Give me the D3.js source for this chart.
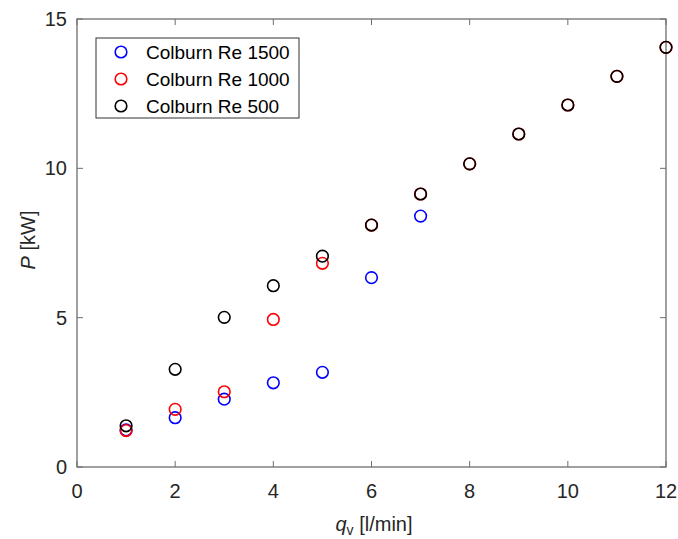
<!DOCTYPE html>
<html>
<head>
<meta charset="utf-8">
<script src="https://cdn.jsdelivr.net/npm/d3@7"></script>
<style>
  body { margin: 0; background: #fff; }
  text { font-family: "Liberation Sans", Arial, sans-serif; }
</style>
</head>
<body>
<div id="chart"></div>
<script>
// ============================
// Data
// ============================
const qv = [1, 2, 3, 4, 5, 6, 7, 8, 9, 10, 11, 12];
const re1500 = [1.24, 1.65, 2.27, 2.82, 3.17, 6.34, 8.4];
const re1000 = [1.22, 1.93, 2.52, 4.94, 6.82, 8.1, 9.14, 10.15, 11.15, 12.12, 13.08, 14.05];
const re500 = [1.38, 3.27, 5.01, 6.07, 7.06, 8.1, 9.14, 10.15, 11.15, 12.12, 13.08, 14.05];
const seriesNames = ["Colburn Re 1500", "Colburn Re 1000", "Colburn Re 500"];
const xTicks = [0, 2, 4, 6, 8, 10, 12];
const yTicks = [0, 5, 10, 15];

const width = 678;
const height = 539;
const margin = {left: 77, right: 12, top: 19, bottom: 72};
const colors = ["#0000ff", "#ff0000", "#000000"];

const svg = d3.select("#chart").append("svg")
  .attr("width", width)
  .attr("height", height);

const xscale = d3.scaleLinear().domain([0, 12]).range([margin.left, width - margin.right]);
const yscale = d3.scaleLinear().domain([0, 15]).range([height - margin.bottom, margin.top]);

const axisColor = "#6e6e6e";
const textColor = "#262626";

// ============================
// Axes (box with inward ticks)
// ============================
const x0 = xscale(0), x1 = xscale(12), y0 = yscale(0), y1 = yscale(15);

svg.append("rect")
  .attr("x", x0).attr("y", y1)
  .attr("width", x1 - x0).attr("height", y0 - y1)
  .attr("fill", "none")
  .attr("stroke", axisColor)
  .attr("stroke-width", 1.3);

const tickLen = 6;
const ticks = svg.append("g").attr("stroke", axisColor).attr("stroke-width", 1);

xTicks.forEach(t => {
  ticks.append("line").attr("x1", xscale(t)).attr("x2", xscale(t)).attr("y1", y0).attr("y2", y0 - tickLen);
  ticks.append("line").attr("x1", xscale(t)).attr("x2", xscale(t)).attr("y1", y1).attr("y2", y1 + tickLen);
});
yTicks.forEach(t => {
  ticks.append("line").attr("x1", x0).attr("x2", x0 + tickLen).attr("y1", yscale(t)).attr("y2", yscale(t));
  ticks.append("line").attr("x1", x1).attr("x2", x1 - tickLen).attr("y1", yscale(t)).attr("y2", yscale(t));
});

svg.append("g").selectAll("text")
  .data(xTicks)
  .join("text")
  .attr("x", d => xscale(d))
  .attr("y", y0 + 31)
  .attr("text-anchor", "middle")
  .attr("font-size", 20)
  .attr("fill", textColor)
  .text(d => d);

svg.append("g").selectAll("text")
  .data(yTicks)
  .join("text")
  .attr("x", x0 - 10)
  .attr("y", d => yscale(d) + 7)
  .attr("text-anchor", "end")
  .attr("font-size", 20)
  .attr("fill", textColor)
  .text(d => d);

// Axis labels
const xl = svg.append("text")
  .attr("x", 374)
  .attr("y", 531)
  .attr("text-anchor", "middle")
  .attr("font-size", 20)
  .attr("fill", textColor);
xl.append("tspan").attr("font-style", "italic").text("q");
xl.append("tspan").attr("font-size", 14).attr("dy", 4).text("v");
xl.append("tspan").attr("dy", -4).text(" [l/min]");

const yl = svg.append("text")
  .attr("transform", "translate(35,240) rotate(-90)")
  .attr("text-anchor", "middle")
  .attr("font-size", 20)
  .attr("fill", textColor);
yl.append("tspan").attr("font-style", "italic").text("P");
yl.append("tspan").text("  [kW]");

// ============================
// Markers
// ============================
const allSeries = [re1500, re1000, re500];
allSeries.forEach((vals, si) => {
  svg.append("g")
    .attr("fill", "none")
    .attr("stroke", colors[si])
    .attr("stroke-width", 1.6)
    .selectAll("circle")
    .data(vals)
    .join("circle")
    .attr("cx", (d, i) => xscale(qv[i]))
    .attr("cy", d => yscale(d))
    .attr("r", 5.8);
});

// ============================
// Legend
// ============================
const legend = svg.append("g");
legend.append("rect")
  .attr("x", 96).attr("y", 38)
  .attr("width", 203).attr("height", 80)
  .attr("fill", "#fff")
  .attr("stroke", "#333")
  .attr("stroke-width", 1);

seriesNames.forEach((name, i) => {
  const cy = 52 + i * 27;
  legend.append("circle")
    .attr("cx", 121).attr("cy", cy).attr("r", 5.8)
    .attr("fill", "none")
    .attr("stroke", colors[i])
    .attr("stroke-width", 1.6);
  legend.append("text")
    .attr("x", 146).attr("y", cy + 7)
    .attr("font-size", 19)
    .attr("fill", "#000")
    .text(name);
});
</script>
</body>
</html>
